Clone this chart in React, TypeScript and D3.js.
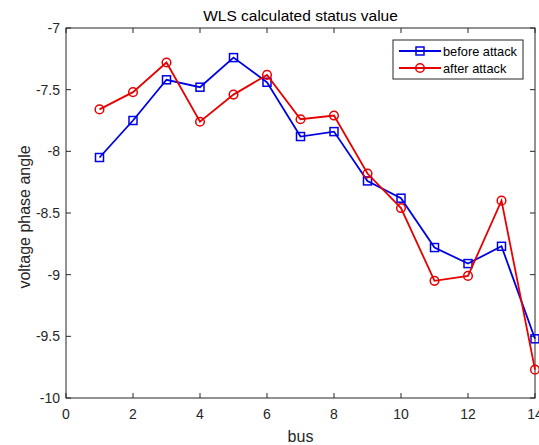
import React from 'react';
import { scaleLinear, line } from 'd3';

// values
const buses = [1, 2, 3, 4, 5, 6, 7, 8, 9, 10, 11, 12, 13, 14];
const beforeAttack = [-8.05, -7.75, -7.42, -7.48, -7.24, -7.44, -7.88, -7.84, -8.24, -8.38, -8.78, -8.91, -8.77, -9.52];
const afterAttack = [-7.66, -7.52, -7.28, -7.76, -7.54, -7.38, -7.74, -7.71, -8.18, -8.46, -9.05, -9.01, -8.40, -9.77];
const xTicks = [0, 2, 4, 6, 8, 10, 12, 14];
const yTicks = [-7, -7.5, -8, -8.5, -9, -9.5, -10];

const W = 539;
const H = 445;
const margin = { top: 28, right: 4, bottom: 47, left: 66 };
const font = 'Arial, "Liberation Sans", Helvetica, sans-serif';
const axisColor = '#262626';

const App = () => {
	const w = W - margin.left - margin.right;
	const h = H - margin.top - margin.bottom;

	const xScale = scaleLinear().domain([0, 14]).range([0, w]);
	const yScale = scaleLinear().domain([-10, -7]).range([h, 0]);

	const lineFn = line<number>()
		.x((d, i) => xScale(buses[i]))
		.y((d) => yScale(d));

	const transform = 'translate(' + margin.left + ',' + margin.top + ')';
	const tickLen = 5;

	// legend
	const lg = { x: 393, y: 40, w: 130, h: 39 };

	return (
		<svg width={W} height={H} style={{ position: 'absolute', left: 0, top: 0, background: '#fff' }}>
			<rect width={W} height={H} fill="#fff" />
			<text x={margin.left + w / 2} y={21} textAnchor="middle" fontFamily={font} fontSize={15.5} fill="#000">
				WLS calculated status value
			</text>
			<g transform={transform}>
				<rect x={0} y={0} width={w} height={h} fill="#fff" stroke={axisColor} strokeWidth={1} />
				{xTicks.map((t) => (
					<g key={'x' + t}>
						<line x1={xScale(t)} x2={xScale(t)} y1={h} y2={h - tickLen} stroke={axisColor} />
						<line x1={xScale(t)} x2={xScale(t)} y1={0} y2={tickLen} stroke={axisColor} />
						<text x={xScale(t)} y={h + 21} textAnchor="middle" fontFamily={font} fontSize={14} fill={axisColor}>
							{t}
						</text>
					</g>
				))}
				{yTicks.map((t) => (
					<g key={'y' + t}>
						<line x1={0} x2={tickLen} y1={yScale(t)} y2={yScale(t)} stroke={axisColor} />
						<line x1={w} x2={w - tickLen} y1={yScale(t)} y2={yScale(t)} stroke={axisColor} />
						<text x={-6} y={yScale(t) + 5} textAnchor="end" fontFamily={font} fontSize={14} fill={axisColor}>
							{t}
						</text>
					</g>
				))}

				<path d={lineFn(beforeAttack) || ''} fill="none" stroke="#0000e6" strokeWidth={1.8} />
				{beforeAttack.map((d, i) => (
					<rect key={'b' + i} x={xScale(buses[i]) - 4} y={yScale(d) - 4} width={8} height={8}
						fill="none" stroke="#0000e6" strokeWidth={1.5} />
				))}
				<path d={lineFn(afterAttack) || ''} fill="none" stroke="#e60000" strokeWidth={1.8} />
				{afterAttack.map((d, i) => (
					<circle key={'a' + i} cx={xScale(buses[i])} cy={yScale(d)} r={4.3}
						fill="none" stroke="#e60000" strokeWidth={1.5} />
				))}
			</g>

			<text x={margin.left + w / 2} y={442} textAnchor="middle" fontFamily={font} fontSize={16} fill={axisColor}>
				bus
			</text>
			<text transform={'translate(30,' + 217 + ') rotate(-90)'} textAnchor="middle"
				fontFamily={font} fontSize={16} fill={axisColor}>
				voltage phase angle
			</text>

			<g>
				<rect x={lg.x} y={lg.y} width={lg.w} height={lg.h} fill="#fff" stroke={axisColor} strokeWidth={1} />
				<line x1={399} x2={441} y1={51} y2={51} stroke="#0000e6" strokeWidth={1.8} />
				<rect x={416} y={47} width={8} height={8} fill="none" stroke="#0000e6" strokeWidth={1.5} />
				<text x={443} y={55.5} fontFamily={font} fontSize={12.8} fill="#000">before attack</text>
				<line x1={399} x2={441} y1={68} y2={68} stroke="#e60000" strokeWidth={1.8} />
				<circle cx={420} cy={68} r={4.3} fill="none" stroke="#e60000" strokeWidth={1.5} />
				<text x={443} y={72.5} fontFamily={font} fontSize={12.8} fill="#000">after attack</text>
			</g>
		</svg>
	);
};

export default App;
